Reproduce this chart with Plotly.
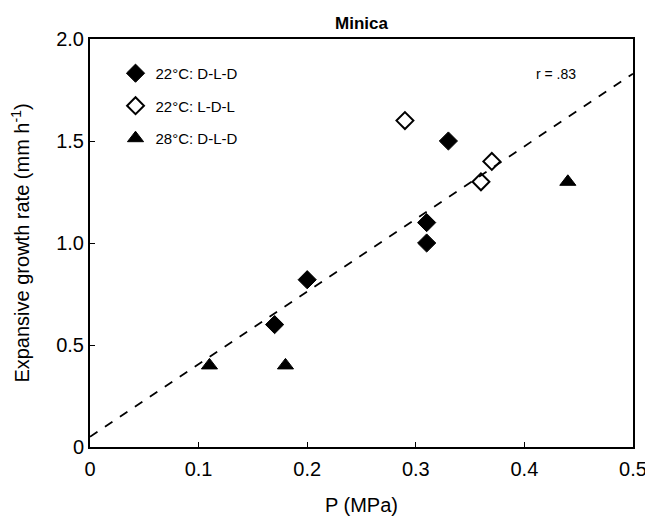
import plotly.graph_objects as go

# Data
dld22_x = [0.17, 0.20, 0.31, 0.31, 0.33]
dld22_y = [0.60, 0.82, 1.10, 1.00, 1.50]
ldl22_x = [0.29, 0.36, 0.37]
ldl22_y = [1.60, 1.30, 1.40]
dld28_x = [0.11, 0.18, 0.44]
dld28_y = [0.40, 0.40, 1.30]
fit_x = [0.0, 0.5]
fit_y = [0.05, 1.83]
x_ticks = [0, 0.1, 0.2, 0.3, 0.4, 0.5]
x_ticklabels = ["0", "0.1", "0.2", "0.3", "0.4", "0.5"]
y_ticks = [0, 0.5, 1.0, 1.5, 2.0]
y_ticklabels = ["0", "0.5", "1.0", "1.5", "2.0"]

FONT = "Liberation Sans, Arial, sans-serif"

fig = go.Figure()
fig.add_trace(go.Scatter(x=fit_x, y=fit_y, mode="lines", showlegend=False,
                         line=dict(color="black", width=1.8, dash="dash")))
fig.add_trace(go.Scatter(x=dld22_x, y=dld22_y, mode="markers", name="22°C: D-L-D",
                         legendgroup="a",
                         marker=dict(symbol="diamond", size=14, color="black",
                                     line=dict(color="black", width=1))))
fig.add_trace(go.Scatter(x=ldl22_x, y=ldl22_y, mode="markers", name="22°C: L-D-L",
                         legendgroup="b",
                         marker=dict(symbol="diamond-open", size=13, color="black",
                                     line=dict(color="black", width=2))))
fig.add_trace(go.Scatter(x=dld28_x, y=dld28_y, mode="markers", name="28°C: D-L-D",
                         legendgroup="c",
                         marker=dict(symbol="triangle-up", size=14, color="black",
                                     line=dict(color="black", width=1))))

fig.add_annotation(x=0.429, y=1.83, xref="x", yref="y", text="r = .83",
                   showarrow=False, font=dict(family=FONT, size=14, color="black"))

fig.update_layout(
    width=653, height=521,
    margin=dict(l=82, r=28, t=31, b=82),
    paper_bgcolor="white", plot_bgcolor="white",
    title=dict(text="<b>Minica</b>", x=0.5, xanchor="center", y=0.972, yanchor="middle",
               xref="paper", font=dict(family=FONT, size=17, color="black")),
    font=dict(family=FONT, color="black"),
    legend=dict(x=0.047, y=0.956, xanchor="left", yanchor="top",
                bgcolor="rgba(0,0,0,0)", font=dict(family=FONT, size=15),
                tracegroupgap=10, itemwidth=30),
    xaxis=dict(range=[0, 0.5], tickvals=x_ticks, ticktext=x_ticklabels,
               showgrid=False, zeroline=False, showline=True, mirror=True,
               linecolor="black", linewidth=2, ticks="inside", ticklen=5,
               tickcolor="black", tickfont=dict(family=FONT, size=20),
               ticklabelstandoff=3,
               title=dict(text="P (MPa)", font=dict(family=FONT, size=20), standoff=19)),
    yaxis=dict(range=[0, 2.0], tickvals=y_ticks, ticktext=y_ticklabels,
               showgrid=False, zeroline=False, showline=True, mirror=True,
               linecolor="black", linewidth=2, ticks="inside", ticklen=5,
               tickcolor="black", tickfont=dict(family=FONT, size=20),
               title=dict(text="Expansive growth rate (mm h<sup>-1</sup>)",
                          font=dict(family=FONT, size=20), standoff=22)),
)

fig.write_html("out.html")
